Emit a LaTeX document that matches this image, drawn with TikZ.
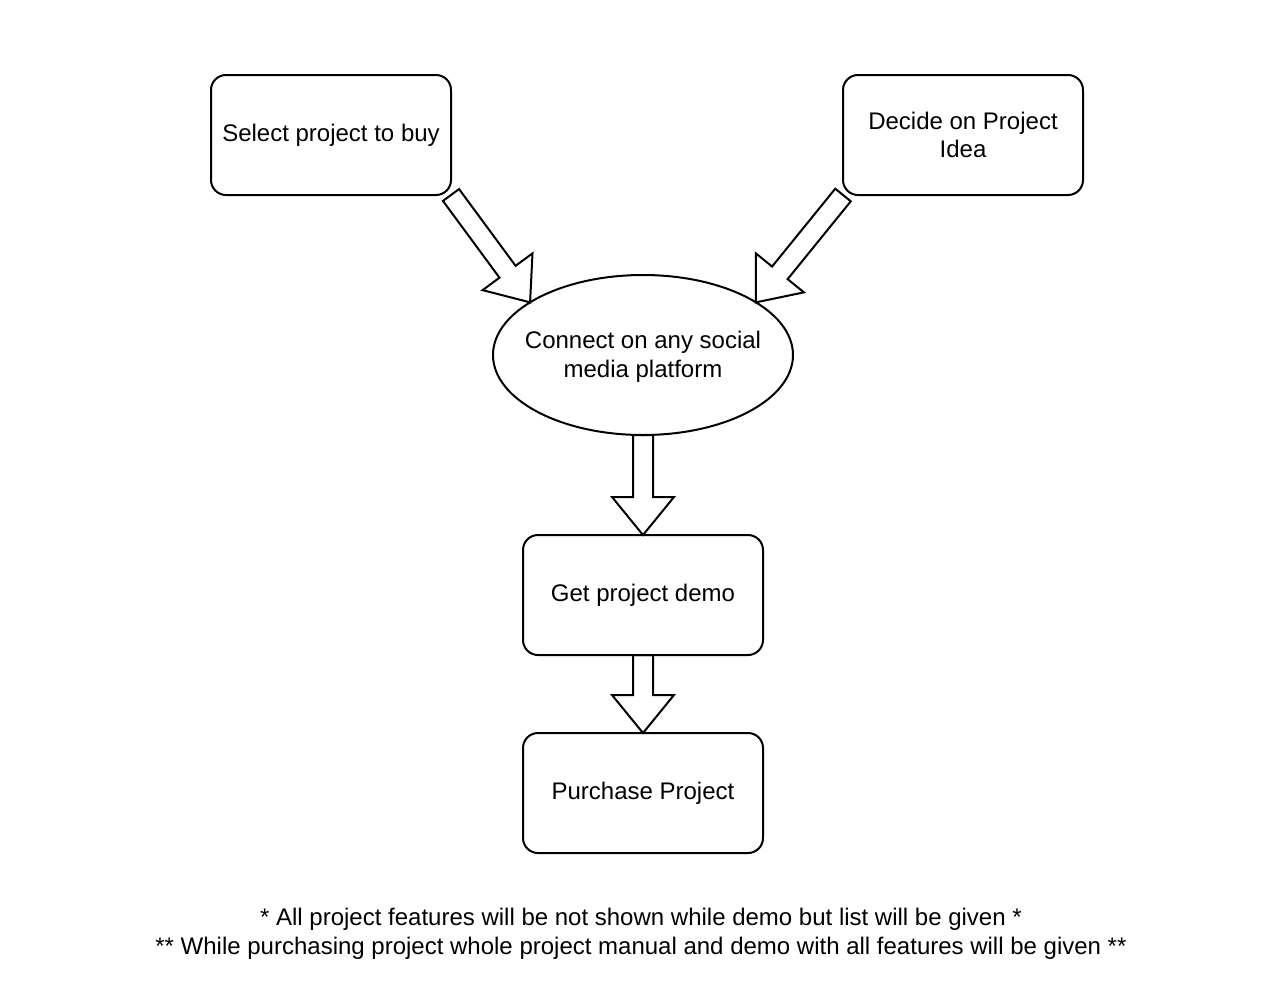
\documentclass[tikz,border=0pt]{standalone}
\usepackage{fontspec}
\setmainfont{Liberation Sans}
\usetikzlibrary{shapes.geometric,calc}
\pgfdeclarelayer{bg}
\pgfsetlayers{bg,main}
\tikzset{
  box/.style={draw=black, line width=2pt, rounded corners=15pt, minimum width=240pt, minimum height=120pt, inner sep=0pt, outer sep=0pt, align=center, font=\fontsize{24}{28.8}\selectfont},
  oval/.style={draw=black, line width=2pt, ellipse, minimum width=300pt, minimum height=160pt, inner sep=0pt, outer sep=0pt},
  ovaltext/.style={align=center, inner sep=0pt, yshift=-2pt, font=\fontsize{24}{28.8}\selectfont},
  note/.style={align=center, inner sep=0pt, font=\fontsize{24}{28.8}\selectfont},
  barrow/.style={draw=black, fill=white, line width=2pt, line join=miter}
}
\newcommand{\blockarr}[2]{%
  \coordinate (bA) at (#1);
  \coordinate (bB) at (#2);
  \coordinate (bH) at ($(bB)!38pt!(bA)$);
  \draw[barrow] ($(bA)!10pt!90:(bB)$) -- ($(bH)!10pt!90:(bB)$) -- ($(bH)!31pt!90:(bB)$) -- (bB)
     -- ($(bH)!31pt!-90:(bB)$) -- ($(bH)!10pt!-90:(bB)$) -- ($(bA)!10pt!-90:(bB)$) -- cycle;
}
\begin{document}
\begin{tikzpicture}[x=1pt,y=-1pt]
\useasboundingbox (0,0) rectangle (1280,1004);
\node[box] (sel) at (331,135) {Select project to buy};
\node[box] (dec) at (963,135) {Decide on Project\\Idea};
\node[oval, label={[ovaltext]center:Connect on any social\\media platform}] (conn) at (643,355) {};
\node[box] (demo) at (643,595) {Get project demo};
\node[box] (purch) at (643,793) {Purchase Project};
\node[note] (notes) at (641,934) {* All project features will be not shown while demo but list will be given *\\** While purchasing project whole project manual and demo with all features will be given **};
\begin{pgfonlayer}{bg}
\blockarr{sel.south east}{conn.155}
\blockarr{dec.south west}{conn.25}
\blockarr{conn.south}{demo.north}
\blockarr{demo.south}{purch.north}
\end{pgfonlayer}
\end{tikzpicture}
\end{document}
